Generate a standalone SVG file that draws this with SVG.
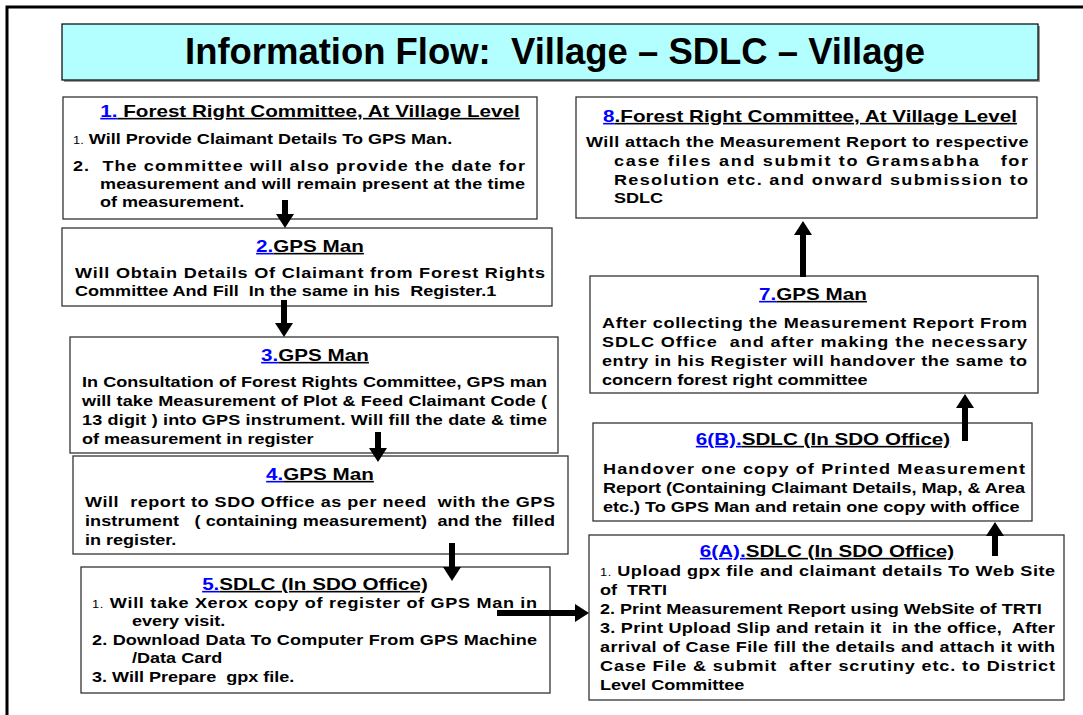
<svg xmlns="http://www.w3.org/2000/svg" width="1083" height="715" viewBox="0 0 1083 715" xml:space="preserve">
<style>
.box{fill:#fff;stroke:#333;stroke-width:1.3}
text{font-family:"Liberation Sans",Arial,sans-serif;font-weight:bold;fill:#000;white-space:pre}
.b{font-size:14px}
.h{font-size:16px;text-anchor:middle}
.u{text-decoration:underline}
.n{fill:#0000ff;text-decoration:underline}
.s{font-size:10px;font-weight:normal}
.t{font-size:37px;text-anchor:middle}
.arr{fill:#000}
</style>
<rect width="1083" height="715" fill="#fff"/>
<path d="M7,715 L7,7 L1083,7" fill="none" stroke="#000" stroke-width="3"/>
<g id="title">
<rect x="64" y="26" width="976" height="56" fill="#999"/>
<rect x="62" y="24" width="976" height="56" fill="#b3ffff" stroke="#000" stroke-width="1.2"/>
<text class="t" x="555" y="64" textLength="740" lengthAdjust="spacingAndGlyphs">Information Flow:  Village – SDLC – Village</text>
</g>
<g id="n1">
<rect class="box" x="63" y="97" width="474" height="122"/>
<text class="h" transform="matrix(1.29 0 0 1 310 117)"><tspan class="n">1.</tspan><tspan class="u"> Forest Right Committee, At Village Level</tspan></text>
<text class="b" transform="matrix(1.29 0 0 1 73 144)"><tspan class="s">1.</tspan> Will Provide Claimant Details To GPS Man.</text>
<text class="b" transform="matrix(1.29 0 0 1 73 171)" textLength="350.4" lengthAdjust="spacing">2.  The committee will also provide the date for</text>
<text class="b" transform="matrix(1.29 0 0 1 100 189)" textLength="329.5" lengthAdjust="spacing">measurement and will remain present at the time</text>
<text class="b" transform="matrix(1.29 0 0 1 100 207)">of measurement.</text>
</g>
<g id="n2">
<rect class="box" x="62" y="228" width="490" height="78"/>
<text class="h" transform="matrix(1.29 0 0 1 310 252)"><tspan class="n">2.</tspan><tspan class="u">GPS Man</tspan></text>
<text class="b" transform="matrix(1.29 0 0 1 75 278)" textLength="364.3" lengthAdjust="spacing">Will Obtain Details Of Claimant from Forest Rights</text>
<text class="b" transform="matrix(1.29 0 0 1 75 296)">Committee And Fill  In the same in his  Register.1</text>
</g>
<g id="n3">
<rect class="box" x="70" y="337" width="488" height="116"/>
<text class="h" transform="matrix(1.29 0 0 1 315 361)"><tspan class="n">3.</tspan><tspan class="u">GPS Man</tspan></text>
<text class="b" transform="matrix(1.29 0 0 1 82 387)" textLength="360.5" lengthAdjust="spacing">In Consultation of Forest Rights Committee, GPS man</text>
<text class="b" transform="matrix(1.29 0 0 1 82 406)" textLength="360.5" lengthAdjust="spacing">will take Measurement of Plot &amp; Feed Claimant Code (</text>
<text class="b" transform="matrix(1.29 0 0 1 82 425)" textLength="360.5" lengthAdjust="spacing">13 digit ) into GPS instrument. Will fill the date &amp; time</text>
<text class="b" transform="matrix(1.29 0 0 1 82 444)">of measurement in register</text>
</g>
<g id="n4">
<rect class="box" x="73" y="456" width="495" height="98"/>
<text class="h" transform="matrix(1.29 0 0 1 320 480)"><tspan class="n">4.</tspan><tspan class="u">GPS Man</tspan></text>
<text class="b" transform="matrix(1.29 0 0 1 85 507)" textLength="364.3" lengthAdjust="spacing">Will  report to SDO Office as per need  with the GPS</text>
<text class="b" transform="matrix(1.29 0 0 1 85 526)" textLength="364.3" lengthAdjust="spacing">instrument   ( containing measurement)  and the  filled</text>
<text class="b" transform="matrix(1.29 0 0 1 85 545)">in register.</text>
</g>
<g id="n5">
<rect class="box" x="81" y="567" width="469" height="126"/>
<text class="h" transform="matrix(1.29 0 0 1 315 590)"><tspan class="n">5.</tspan><tspan class="u">SDLC (In SDO Office)</tspan></text>
<text class="b" transform="matrix(1.29 0 0 1 92 608)" textLength="345" lengthAdjust="spacing"><tspan class="s">1.</tspan> Will take Xerox copy of register of GPS Man in</text>
<text class="b" transform="matrix(1.29 0 0 1 132 626)">every visit.</text>
<text class="b" transform="matrix(1.29 0 0 1 92 645)" textLength="345" lengthAdjust="spacing">2. Download Data To Computer From GPS Machine</text>
<text class="b" transform="matrix(1.29 0 0 1 132 663)">/Data Card</text>
<text class="b" transform="matrix(1.29 0 0 1 92 682)">3. Will Prepare  gpx file.</text>
</g>
<g id="n6a">
<rect class="box" x="589" y="535" width="475" height="165"/>
<text class="h" transform="matrix(1.29 0 0 1 827 557)"><tspan class="n">6(A).</tspan><tspan class="u">SDLC (In SDO Office)</tspan></text>
<text class="b" transform="matrix(1.29 0 0 1 600 576)" textLength="352.7" lengthAdjust="spacing"><tspan class="s">1.</tspan> Upload gpx file and claimant details To Web Site</text>
<text class="b" transform="matrix(1.29 0 0 1 600 595)">of  TRTI</text>
<text class="b" transform="matrix(1.29 0 0 1 600 614)">2. Print Measurement Report using WebSite of TRTI</text>
<text class="b" transform="matrix(1.29 0 0 1 600 633)" textLength="352.7" lengthAdjust="spacing">3. Print Upload Slip and retain it  in the office,  After</text>
<text class="b" transform="matrix(1.29 0 0 1 600 652)" textLength="352.7" lengthAdjust="spacing">arrival of Case File fill the details and attach it with</text>
<text class="b" transform="matrix(1.29 0 0 1 600 671)" textLength="352.7" lengthAdjust="spacing">Case File &amp; submit  after scrutiny etc. to District</text>
<text class="b" transform="matrix(1.29 0 0 1 600 690)">Level Committee</text>
</g>
<g id="n6b">
<rect class="box" x="593" y="423" width="439" height="98"/>
<text class="h" transform="matrix(1.29 0 0 1 823 445)"><tspan class="n">6(B).</tspan><tspan class="u">SDLC (In SDO Office)</tspan></text>
<text class="b" transform="matrix(1.29 0 0 1 603 474)" textLength="327.1" lengthAdjust="spacing">Handover one copy of Printed Measurement</text>
<text class="b" transform="matrix(1.29 0 0 1 603 493)" textLength="327.1" lengthAdjust="spacing">Report (Containing Claimant Details, Map, &amp; Area</text>
<text class="b" transform="matrix(1.29 0 0 1 603 512)">etc.) To GPS Man and retain one copy with office</text>
</g>
<g id="n7">
<rect class="box" x="590" y="276" width="448" height="117"/>
<text class="h" transform="matrix(1.29 0 0 1 813 300)"><tspan class="n">7.</tspan><tspan class="u">GPS Man</tspan></text>
<text class="b" transform="matrix(1.29 0 0 1 602 328)" textLength="329.5" lengthAdjust="spacing">After collecting the Measurement Report From</text>
<text class="b" transform="matrix(1.29 0 0 1 602 347)" textLength="329.5" lengthAdjust="spacing">SDLC Office  and after making the necessary</text>
<text class="b" transform="matrix(1.29 0 0 1 602 366)" textLength="329.5" lengthAdjust="spacing">entry in his Register will handover the same to</text>
<text class="b" transform="matrix(1.29 0 0 1 602 385)">concern forest right committee</text>
</g>
<g id="n8">
<rect class="box" x="576" y="97" width="461" height="121"/>
<text class="h" transform="matrix(1.29 0 0 1 810 122)"><tspan class="n">8</tspan><tspan class="u">.Forest Right Committee, At Village Level</tspan></text>
<text class="b" transform="matrix(1.29 0 0 1 586 147)" textLength="343" lengthAdjust="spacing">Will attach the Measurement Report to respective</text>
<text class="b" transform="matrix(1.29 0 0 1 614 166)" textLength="321" lengthAdjust="spacing">case files and submit to Gramsabha   for</text>
<text class="b" transform="matrix(1.29 0 0 1 614 185)" textLength="321" lengthAdjust="spacing">Resolution etc. and onward submission to</text>
<text class="b" transform="matrix(1.29 0 0 1 614 203)">SDLC</text>
</g>
<g id="connectors">
<path class="arr" d="M282,200 L288,200 L288,214 L294,214 L285,228 L276,214 L282,214 Z"/>
<path class="arr" d="M281,300 L287,300 L287,323 L293,323 L284,337 L275,323 L281,323 Z"/>
<path class="arr" d="M375,432 L381,432 L381,448 L387,448 L378,462 L369,448 L375,448 Z"/>
<path class="arr" d="M449,543 L455,543 L455,567 L461,567 L452,581 L443,567 L449,567 Z"/>
<path class="arr" d="M497,610 L497,616 L575,616 L575,622 L589,613 L575,604 L575,610 Z"/>
<path class="arr" d="M992,556 L998,556 L998,536 L1004,536 L995,522 L986,536 L992,536 Z"/>
<path class="arr" d="M962,441 L968,441 L968,408 L974,408 L965,394 L956,408 L962,408 Z"/>
<path class="arr" d="M800,277 L806,277 L806,235 L812,235 L803,221 L794,235 L800,235 Z"/>
</g>
</svg>
